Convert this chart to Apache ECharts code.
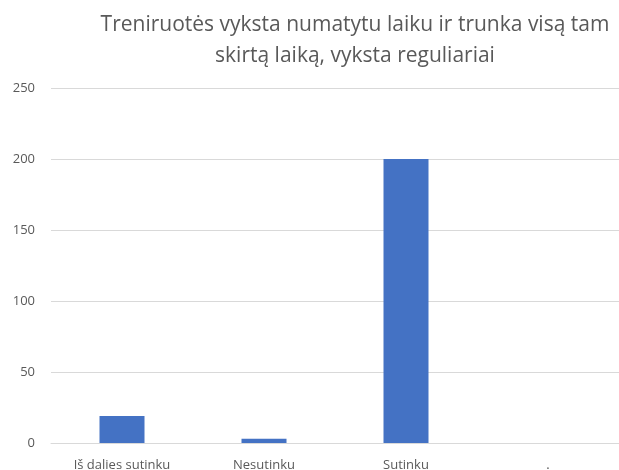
<!DOCTYPE html>
<html>
<head>
<meta charset="utf-8">
<script src="https://cdn.jsdelivr.net/npm/echarts@6/dist/echarts.min.js"></script>
<style>
  html, body { margin: 0; padding: 0; background: #fff; }
  #chart-container { width: 619px; height: 470px; }
</style>
</head>
<body>
<div id="chart-container"></div>
<script>
var categories = ["Iš dalies sutinku", "Nesutinku", "Sutinku", "."];
var counts = [19, 3, 200, 0];
var yTicks = [0, 50, 100, 150, 200, 250];

var dom = document.getElementById('chart-container');
var myChart = echarts.init(dom, null, { renderer: 'canvas' });

var option = {
  backgroundColor: "#ffffff",
  animation: false,
  textStyle: { fontFamily: "Open Sans" },
  title: {
    text: "Treniruotės vyksta numatytu laiku ir trunka visą tam\nskirtą laiką, vyksta reguliariai",
    left: 350,
    top: 5,
    textAlign: "center",
    textStyle: {
      color: "#595959",
      fontSize: 21,
      fontWeight: "normal",
      lineHeight: 31,
      fontFamily: "Open Sans"
    }
  },
  grid: {
    left: 51,
    right: 0,
    top: 88,
    bottom: 27,
    containLabel: false,
    outerBoundsMode: "none"
  },
  xAxis: {
    type: "category",
    data: categories,
    axisLine: { lineStyle: { color: "#d9d9d9" } },
    axisTick: { show: false },
    axisLabel: { color: "#595959", fontSize: 13, margin: 16, interval: 0 }
  },
  yAxis: {
    type: "value",
    min: yTicks[0],
    max: yTicks[yTicks.length - 1],
    interval: 50,
    axisLine: { show: false },
    axisTick: { show: false },
    splitLine: { lineStyle: { color: "#d9d9d9" } },
    axisLabel: { color: "#595959", fontSize: 13, margin: 16 }
  },
  series: [{
    type: "bar",
    data: counts,
    barWidth: 45,
    itemStyle: { color: "#4472c4" }
  }]
};

myChart.setOption(option);
window.addEventListener('resize', myChart.resize);
</script>
</body>
</html>
